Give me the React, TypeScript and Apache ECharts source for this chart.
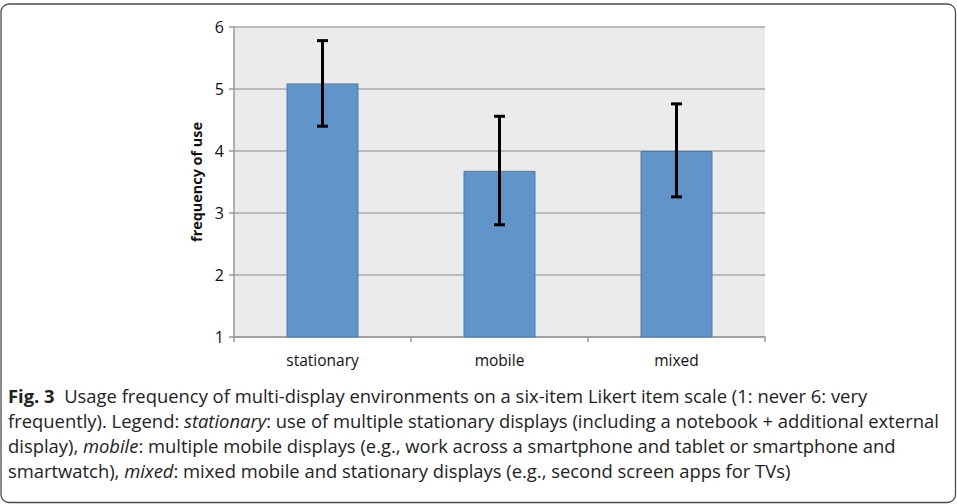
import React, { useEffect, useRef } from "react";
import * as echarts from "echarts";

const categories = ["stationary", "mobile", "mixed"];
const means = [5.09, 3.68, 4.0];
const errLow = [4.4, 2.81, 3.26];
const errHigh = [5.78, 4.56, 4.76];
const yTicks = [1, 6, 1]; // min, max, interval

const captionLines: string[] = [
  "{b|Fig. 3}  Usage frequency of multi-display environments on a six-item Likert item scale (1: never 6: very",
  "frequently). Legend: {i|stationary}: use of multiple stationary displays (including a notebook + additional external",
  "display), {i|mobile}: multiple mobile displays (e.g., work across a smartphone and tablet or smartphone and",
  "smartwatch), {i|mixed}: mixed mobile and stationary displays (e.g., second screen apps for TVs)",
];

export default function App() {
  const ref = useRef<HTMLDivElement>(null);
  useEffect(() => {
    if (!ref.current) return;
    const chart = echarts.init(ref.current, undefined, { renderer: "svg" });
    const font = "'Open Sans', 'Noto Sans', sans-serif";
    const capFont = "'Open Sans', 'Noto Sans', sans-serif";
    const capSize = 18.4;
    const errData = categories.map((_, i) => [i, errLow[i], errHigh[i]]);
    chart.setOption({
      animation: false,
      grid: {
        left: 234,
        right: 192,
        top: 27,
        bottom: 167,
        show: true,
        backgroundColor: "#ebebeb",
        borderWidth: 0,
      },
      xAxis: {
        type: "category",
        data: categories,
        boundaryGap: true,
        axisLine: { show: true, lineStyle: { color: "#9a9a9a", width: 1.5 } },
        axisTick: { show: true, length: 5, interval: 0, lineStyle: { color: "#9a9a9a", width: 1.5 } },
        axisLabel: { margin: 15, fontSize: 15.5, color: "#111", fontFamily: font, interval: 0 },
      },
      yAxis: {
        type: "value",
        min: yTicks[0],
        max: yTicks[1],
        interval: yTicks[2],
        name: "frequency of use",
        nameLocation: "middle",
        nameGap: 31,
        nameRotate: 90,
        nameTextStyle: { fontSize: 14.4, fontWeight: "bold", color: "#111", fontFamily: font },
        axisLine: { show: true, lineStyle: { color: "#9a9a9a", width: 1.5 } },
        axisTick: { show: true, length: 5, lineStyle: { color: "#9a9a9a", width: 1.5 } },
        axisLabel: { margin: 10, fontSize: 16, color: "#111", fontFamily: font },
        splitLine: { show: true, lineStyle: { color: "#a8a8a8", width: 1.5 } },
      },
      series: [
        {
          type: "bar",
          data: means,
          barWidth: 72,
          itemStyle: { color: "#6195c9", borderColor: "#4a7bb0", borderWidth: 1 },
        },
        {
          type: "custom",
          data: errData,
          z: 10,
          renderItem: (params: any, api: any) => {
            const lo = api.coord([api.value(0), api.value(1)]);
            const hi = api.coord([api.value(0), api.value(2)]);
            const hw = 5.5;
            const st = { stroke: "#000", lineWidth: 3 };
            return {
              type: "group",
              children: [
                { type: "line", shape: { x1: lo[0], y1: lo[1], x2: hi[0], y2: hi[1] }, style: st },
                { type: "line", shape: { x1: lo[0] - hw, y1: lo[1], x2: lo[0] + hw, y2: lo[1] }, style: st },
                { type: "line", shape: { x1: hi[0] - hw, y1: hi[1], x2: hi[0] + hw, y2: hi[1] }, style: st },
              ],
            };
          },
        },
      ],
      graphic: [
        {
          type: "rect",
          shape: { x: 1, y: 4, width: 954.5, height: 498.5, r: 8 },
          style: { fill: "none", stroke: "#4d4d4d", lineWidth: 1.3 },
          silent: true,
        },
        ...captionLines.map((t, i) => ({
          type: "text",
          x: 8,
          y: 395 + i * 25,
          style: {
            text: t,
            fontSize: capSize,
            fontFamily: capFont,
            fill: "#222",
            textVerticalAlign: "middle",
            verticalAlign: "middle",
            rich: {
              b: { fontWeight: "bold", fontSize: capSize, fontFamily: capFont, fill: "#222" },
              i: { fontStyle: "italic", fontSize: capSize, fontFamily: capFont, fill: "#222" },
            },
          },
        })),
      ],
    });
    return () => chart.dispose();
  }, []);
  return (
    <div
      ref={ref}
      style={{ position: "absolute", left: 0, top: 0, width: 957, height: 504, background: "#fff" }}
    />
  );
}
